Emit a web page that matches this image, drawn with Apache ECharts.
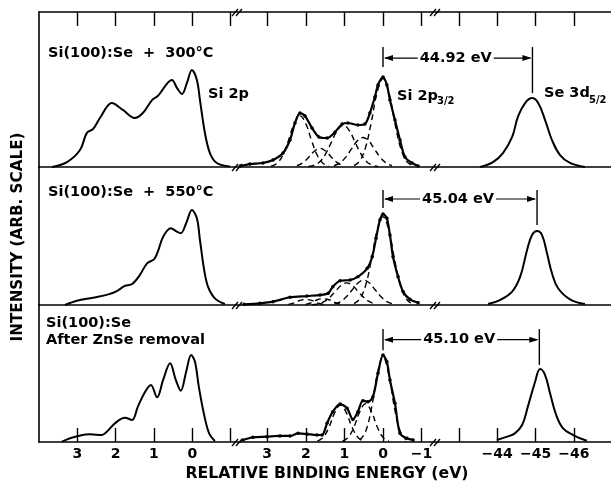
<!DOCTYPE html>
<html><head><meta charset="utf-8">
<script src="https://cdn.jsdelivr.net/npm/echarts@6/dist/echarts.min.js"></script>
<style>html,body{margin:0;padding:0;background:#fff}#c{width:611px;height:484px}</style>
</head><body><div id="c"></div>
<script>
// ---------- DATA (relative binding energy in eV, intensity in arbitrary units, 0-100 per panel) ----------
const panelTitles = [['Si(100):Se  +  300°C'], ['Si(100):Se  +  550°C'], ['Si(100):Se', 'After ZnSe removal']];
const shiftLabels = ['44.92 eV', '45.04 eV', '45.10 eV'];
const sePeakE = [-44.92, -45.04, -45.10];

const leftTicks = [3, 2, 1, 0, -1];
const leftLabels = [3, 2, 1, 0];
const midTicks = [3, 2, 1, 0, -1];
const midLabels = [3, 2, 1, 0, -1];
const seTicks = [-43, -44, -45, -46];
const seLabels = [-44, -45, -46];

// Si 2p raw spectra (left segment)
const siTop = [[3.66,0],[3.27,3.2],[2.93,11],[2.75,22],[2.59,24.5],[2.41,31.6],[2.10,41.3],[1.81,36.8],[1.50,31.6],[1.29,34.8],[1.05,43.2],[0.90,45.8],[0.53,56.1],[0.40,51],[0.27,47.1],[0.14,54.2],[0.01,62.6],[-0.12,56.1],[-0.20,43.2],[-0.33,21.9],[-0.46,9],[-0.64,2.6],[-0.98,0.3]];
const siMid = [[3.32,0],[3.01,3.1],[2.59,5.3],[2.19,7.7],[1.97,10.1],[1.76,13.8],[1.57,15.2],[1.37,21.7],[1.18,30.2],[1.00,33.1],[0.90,38.6],[0.76,49.5],[0.56,55.6],[0.40,53.1],[0.30,52],[0.16,59.2],[0.01,68.8],[-0.12,62.8],[-0.20,47.1],[-0.31,25.4],[-0.41,13.3],[-0.59,4.8],[-0.85,0.7]];
const siBot = [[3.40,0.2],[3.19,2.7],[2.98,4.4],[2.67,5.6],[2.36,5.1],[2.23,7.5],[2.02,13.6],[1.76,17.7],[1.57,16.1],[1.42,25.8],[1.23,36.7],[1.08,41.6],[0.92,32.6],[0.76,45.3],[0.58,57.4],[0.43,45.3],[0.30,37.5],[0.16,51.3],[0.03,63.5],[-0.07,58.6],[-0.17,40.4],[-0.31,19.7],[-0.44,6.3],[-0.59,0.7]];

// Si 2p3/2 data + fit (middle segment)
const fitTop = [[3.70,0.6],[3.45,1.9],[3.11,2.6],[2.85,4.5],[2.59,9],[2.41,17.4],[2.28,28.4],[2.15,34.8],[2.02,32.9],[1.84,25.2],[1.66,19.4],[1.45,18.7],[1.24,22.6],[1.06,27.7],[0.91,28.4],[0.65,27.1],[0.47,27.7],[0.34,34.8],[0.21,45.2],[0.13,52.9],[0,58],[-0.10,52.9],[-0.18,43.2],[-0.31,30.3],[-0.44,17.4],[-0.57,6.5],[-0.75,2.6],[-0.91,0.6]];
const fitMid = [[3.60,0.5],[3.19,1.2],[2.85,2.4],[2.41,5.6],[1.97,6.5],[1.63,7.2],[1.42,8.5],[1.30,13.3],[1.11,17.6],[0.85,18.1],[0.65,20.5],[0.41,26.6],[0.28,35],[0.18,48.3],[0.08,61.6],[0,65.9],[-0.10,62.8],[-0.18,50.7],[-0.26,35],[-0.39,20.5],[-0.52,9.7],[-0.70,4.1],[-0.91,1.7]];
const fitBot = [[3.63,1.5],[3.37,3.4],[3.01,3.9],[2.67,4.4],[2.41,4.4],[2.20,6.3],[1.97,5.8],[1.71,5.1],[1.58,5.1],[1.45,13.6],[1.30,22.1],[1.11,27.7],[0.93,24.6],[0.78,16.5],[0.65,22.1],[0.52,30.2],[0.39,29.4],[0.26,33.1],[0.13,50.1],[0,63.5],[-0.10,58.6],[-0.18,45.3],[-0.31,28.2],[-0.44,6.3],[-0.62,2.7],[-0.78,1.5]];

// fitted components (dashed)
const compTop = [
  [[2.90,0.5],[2.75,2.3],[2.60,7.4],[2.45,17],[2.30,28],[2.15,33],[2.00,28],[1.85,17],[1.70,7.4],[1.55,2.3],[1.40,0.5]],
  [[2.23,0.8],[2.08,2.7],[1.93,6.2],[1.78,10.2],[1.63,12],[1.48,10.2],[1.33,6.2],[1.18,2.7],[1.03,0.8]],
  [[1.93,0.3],[1.78,1.2],[1.63,3.6],[1.48,8.8],[1.33,16.4],[1.18,23.8],[1.03,27],[0.88,23.8],[0.73,16.4],[0.58,8.8],[0.43,3.6],[0.28,1.2],[0.13,0.3]],
  [[1.27,0.8],[1.12,2.6],[0.97,6.2],[0.82,11.5],[0.67,16.8],[0.52,19],[0.37,16.8],[0.22,11.5],[0.07,6.2],[-0.08,2.6],[-0.23,0.8]],
  [[0.75,0.9],[0.6,4],[0.45,12.8],[0.3,29.3],[0.15,48.3],[0,57],[-0.15,48.3],[-0.3,29.3],[-0.45,12.8],[-0.6,4],[-0.75,0.9]]
];
const compMid = [
  [[2.45,0.5],[2.3,1.6],[2.15,3.3],[2.0,4],[1.85,3.3],[1.7,1.6],[1.55,0.5]],
  [[2.0,0.5],[1.85,1.8],[1.7,3.8],[1.55,4.5],[1.4,3.8],[1.25,1.8],[1.1,0.5]],
  [[1.84,0.2],[1.69,0.7],[1.54,2.2],[1.39,5.2],[1.24,9.7],[1.09,14.1],[0.94,16],[0.79,14.1],[0.64,9.7],[0.49,5.2],[0.34,2.2],[0.19,0.7]],
  [[1.25,0.8],[1.10,2.4],[0.95,5.9],[0.80,10.9],[0.65,15.9],[0.50,18],[0.35,15.9],[0.20,10.9],[0.05,5.9],[-0.10,2.4],[-0.25,0.8]],
  [[0.75,1],[0.6,4.5],[0.45,14.3],[0.3,32.9],[0.15,54.2],[0,64],[-0.15,54.2],[-0.3,32.9],[-0.45,14.3],[-0.6,4.5],[-0.75,1]]
];
const compBot = [
  [[1.70,0.6],[1.55,3.3],[1.40,10.7],[1.25,21.4],[1.10,27],[0.95,21.4],[0.80,10.7],[0.65,3.3],[0.50,0.6]],
  [[1.05,0.7],[0.90,3.4],[0.75,11.1],[0.60,22.2],[0.45,28],[0.30,22.2],[0.15,11.1],[0.0,3.4],[-0.15,0.7]],
  [[0.6,1.5],[0.45,7.6],[0.3,24.5],[0.15,49.2],[0,62],[-0.15,49.2],[-0.3,24.5],[-0.45,7.6],[-0.6,1.5]]
];

// Se 3d5/2 (right segment)
const seTop = [[-43.55,0],[-43.89,3.2],[-44.15,9],[-44.39,19.4],[-44.54,32.3],[-44.73,41.3],[-44.91,44.5],[-45.07,41.3],[-45.25,30.3],[-45.43,17.4],[-45.64,7.7],[-45.90,2.6],[-46.29,0]];
const seMid = [[-43.76,0.7],[-44.07,3.6],[-44.39,9.7],[-44.60,20.5],[-44.78,39.9],[-44.91,50.7],[-45.04,53.6],[-45.17,50.7],[-45.30,37.5],[-45.43,23],[-45.59,12.1],[-45.90,4.1],[-46.29,0.7]];
const seBot = [[-43.99,1.5],[-44.26,3.9],[-44.46,6.3],[-44.65,12.4],[-44.80,25.8],[-44.99,44.0],[-45.12,53.3],[-45.25,48.9],[-45.38,35.5],[-45.54,19.7],[-45.72,10],[-45.98,5.1],[-46.34,0.9]];

// ---------- LAYOUT ----------
const FONT = '"DejaVu Sans", sans-serif';
const cols = [
  {left:39, width:201, min:-1.245, max:4.0, ticks:leftTicks, labels:leftLabels},
  {left:240, width:198, min:-1.425, max:3.705, ticks:midTicks, labels:midLabels},
  {left:438, width:173, min:-46.971, max:-42.454, ticks:seTicks, labels:seLabels}
];
const rows = [{top:12,height:155},{top:167,height:138},{top:305,height:137}];
const annot = [
  {top:77.4, leftBot:64.5, arrow:70.3, rightBot:47.7},
  {top:83.3, leftBot:70.3, arrow:76.8, rightBot:58},
  {top:82.5, leftBot:67, arrow:74.7, rightBot:56.2}
];
const siRows = [siTop, siMid, siBot];
const fitRows = [fitTop, fitMid, fitBot];
const compRows = [compTop, compMid, compBot];
const seRows = [seTop, seMid, seBot];

function fmt(v){ return v < 0 ? '\u2212' + Math.abs(v) : String(v); }
function makeX(g, C, pos, ticks, labels){
  return {gridIndex:g, type:'value', position:pos, inverse:true, min:C.min, max:C.max,
    axisLine:{show:true, onZero:false, lineStyle:{color:'#000', width:1.6}},
    axisTick:{show:ticks, inside:true, length:14, customValues:C.ticks, lineStyle:{color:'#000', width:1.4}},
    axisLabel:{show:labels, customValues:C.labels, margin:5, color:'#000', fontFamily:FONT, fontWeight:'bold', fontSize:14, formatter:fmt},
    splitLine:{show:false}};
}

const chart = echarts.init(document.getElementById('c'), null, {renderer:'canvas', width:611, height:484});
const grids=[], xAxes=[], yAxes=[], series=[];
rows.forEach((R,r)=>cols.forEach((C,c)=>{
  const g = r*3+c;
  grids.push({left:C.left, top:R.top, width:C.width, height:R.height, containLabel:false, outerBoundsMode:'none', show:false});
  xAxes.push(makeX(g, C, 'top', r===0, false));
  yAxes.push({gridIndex:g, type:'value', min:0, max:100, show:c===0, position:'left',
    axisLine:{show:true, onZero:false, lineStyle:{color:'#000', width:1.6}},
    axisTick:{show:false}, axisLabel:{show:false}, splitLine:{show:false}});
}));
cols.forEach((C,c)=>xAxes.push(makeX(6+c, C, 'bottom', true, true)));

const solid = {color:'#000', width:2};
rows.forEach((R,r)=>{
  const g0=r*3, g1=r*3+1, g2=r*3+2;
  series.push({type:'line', xAxisIndex:g0, yAxisIndex:g0, data:siRows[r], smooth:0.35, showSymbol:false, lineStyle:solid, itemStyle:{color:'#000'}, silent:true});
  compRows[r].forEach(d=>series.push({type:'line', xAxisIndex:g1, yAxisIndex:g1, data:d, smooth:0.4, showSymbol:false,
    lineStyle:{color:'#000', width:1.4, type:[6,4]}, itemStyle:{color:'#000'}, silent:true}));
  series.push({type:'line', xAxisIndex:g1, yAxisIndex:g1, data:fitRows[r], smooth:0.3, showSymbol:true, symbol:'circle', symbolSize:3.5,
    lineStyle:{color:'#000', width:2.2}, itemStyle:{color:'#000'}, silent:true, z:5});
  series.push({type:'line', xAxisIndex:g2, yAxisIndex:g2, data:seRows[r], smooth:0.4, showSymbol:false, lineStyle:solid, itemStyle:{color:'#000'}, silent:true});
});

chart.setOption({animation:false, backgroundColor:'#fff', grid:grids, xAxis:xAxes, yAxis:yAxes, series:series});

// ---------- annotations & text ----------
const G = [];
const txt = (x,y,text,size,align,extra)=>Object.assign({type:'text', x:x, y:y, silent:true, z:20,
  style:{text:text, fill:'#000', font:'bold '+size+'px '+FONT, textAlign:align||'left', textVerticalAlign:'middle', verticalAlign:'middle'}}, extra||{});
const ln = (x1,y1,x2,y2,w)=>({type:'line', silent:true, z:20, shape:{x1:x1,y1:y1,x2:x2,y2:y2}, style:{stroke:'#000', lineWidth:w||1.3}});

// break marks on the horizontal frame lines
const hLines = [rows[0].top, rows[0].top+rows[0].height, rows[1].top+rows[1].height, rows[2].top+rows[2].height];
[cols[1].left, cols[2].left].forEach(bx=>hLines.forEach(hy=>{
  G.push(ln(bx-8, hy+4, bx-2, hy-3, 1.3));
  G.push(ln(bx-4, hy+4, bx+2, hy-3, 1.3));
}));

// panel titles
G.push(txt(48, 53, panelTitles[0][0], 14.5));
G.push(txt(48, 192, panelTitles[1][0], 14.5));
G.push(txt(46, 323, panelTitles[2][0], 14.5));
G.push(txt(46, 340, panelTitles[2][1], 14.5));
// peak labels
G.push(txt(208, 94, 'Si 2p', 14.5));
G.push(txt(397, 96, 'Si 2p', 14.5));
G.push(txt(437, 101, '3/2', 10));
G.push(txt(544, 93, 'Se 3d', 14.5));
G.push(txt(589, 100, '5/2', 10));
// axis titles
G.push(txt(18, 237, 'INTENSITY (ARB. SCALE)', 15.2, 'center', {rotation:Math.PI/2}));
G.push(txt(327, 474, 'RELATIVE BINDING ENERGY (eV)', 15.7, 'center'));

// shift arrows
rows.forEach((R,r)=>{
  const g1=r*3+1, g2=r*3+2, A=annot[r];
  const xL = chart.convertToPixel({xAxisIndex:g1}, 0);
  const xR = chart.convertToPixel({xAxisIndex:g2}, sePeakE[r]);
  const yT = chart.convertToPixel({yAxisIndex:g1}, A.top);
  const yLB = chart.convertToPixel({yAxisIndex:g1}, A.leftBot);
  const yA = chart.convertToPixel({yAxisIndex:g1}, A.arrow);
  const yRB = chart.convertToPixel({yAxisIndex:g2}, A.rightBot);
  const cx = (xL+xR)/2 - 2;
  G.push(ln(xL, yT, xL, yLB, 1.4));
  G.push(ln(xR, yT, xR, yRB, 1.4));
  G.push(ln(xL+2, yA, cx-38, yA, 1.2));
  G.push(ln(cx+38, yA, xR-2, yA, 1.2));
  G.push({type:'polygon', silent:true, z:20, shape:{points:[[xL+1,yA],[xL+10,yA-3],[xL+10,yA+3]]}, style:{fill:'#000'}});
  G.push({type:'polygon', silent:true, z:20, shape:{points:[[xR-1,yA],[xR-10,yA-3],[xR-10,yA+3]]}, style:{fill:'#000'}});
  G.push(txt(cx, yA, shiftLabels[r], 14.5, 'center'));
});

chart.setOption({graphic:G});
</script></body></html>
